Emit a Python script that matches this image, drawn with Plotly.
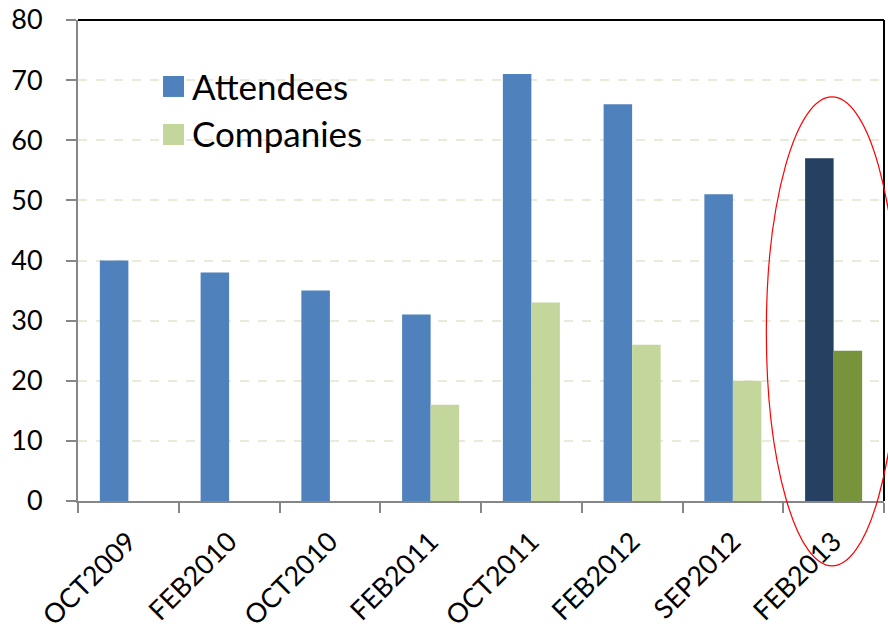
import plotly.graph_objects as go

categories = ["OCT2009", "FEB2010", "OCT2010", "FEB2011", "OCT2011", "FEB2012", "SEP2012", "FEB2013"]
series_names = ["Attendees", "Companies"]
attendees = [40, 38, 35, 31, 71, 66, 51, 57]
companies = [None, None, None, 16, 33, 26, 20, 25]
att_colors = ["#4F81BD"] * 7 + ["#254061"]
comp_colors = ["#C3D69B"] * 7 + ["#77933C"]

FONT = "Lato"

fig = go.Figure()
fig.add_trace(go.Bar(name=series_names[0], x=categories, y=attendees,
                     marker=dict(color=att_colors, line=dict(width=0)), showlegend=False))
fig.add_trace(go.Bar(name=series_names[1], x=categories, y=companies,
                     marker=dict(color=comp_colors, line=dict(width=0)), showlegend=False))

fig.update_layout(
    width=888, height=634,
    margin=dict(l=78, r=4, t=20, b=133),
    plot_bgcolor="white", paper_bgcolor="white",
    barmode="group", bargap=0.434, bargroupgap=0,
    font=dict(family=FONT, color="black"),
    showlegend=False,
)
fig.update_xaxes(
    showline=True, linecolor="#868686", linewidth=2,
    ticks="outside", ticklen=10, tickcolor="#868686", tickwidth=2,
    tickson="boundaries", tickangle=-45, tickfont=dict(size=27, family=FONT),
    ticklabelstandoff=12, automargin=False,
    showgrid=False,
)
fig.update_yaxes(
    range=[0, 80], dtick=10,
    showline=True, linecolor="#868686", linewidth=2,
    ticks="outside", ticklen=10, tickcolor="#868686", tickwidth=2,
    tickfont=dict(size=27, family=FONT), ticklabelstandoff=18, automargin=False,
    showgrid=True, gridcolor="#EAEADB", griddash="dash", gridwidth=2,
    zeroline=False,
)
# black top and right border
fig.add_shape(type="line", xref="paper", yref="paper", x0=0, x1=1, y0=1, y1=1,
              line=dict(color="black", width=2))
fig.add_shape(type="line", xref="paper", yref="paper", x0=1, x1=1, y0=0, y1=1,
              line=dict(color="black", width=2))

# legend (drawn manually for large square swatches)
legend_colors = ["#4F81BD", "#C3D69B"]
legend_rows = [(0.8836, 0.840, 0.8628), (0.7838, 0.7401, 0.7651)]
for name, col, (ytop, ybot, ymid) in zip(series_names, legend_colors, legend_rows):
    fig.add_shape(type="rect", xref="paper", yref="paper", x0=0.1055, x1=0.1315,
                  y0=ybot, y1=ytop, fillcolor=col, line=dict(width=0))
    fig.add_annotation(xref="paper", yref="paper", x=0.139, y=ymid, text=name,
                       showarrow=False, xanchor="left", yanchor="middle",
                       font=dict(size=35, family=FONT, color="black"))

# red highlight ellipse
fig.add_shape(type="circle", xref="paper", yref="paper",
              x0=0.854, x1=1.017, y0=-0.135, y1=0.840,
              line=dict(color="red", width=1.2), layer="above")

fig.write_html("out.html", config={"displayModeBar": False},
               post_script="document.body.style.margin='0';")
